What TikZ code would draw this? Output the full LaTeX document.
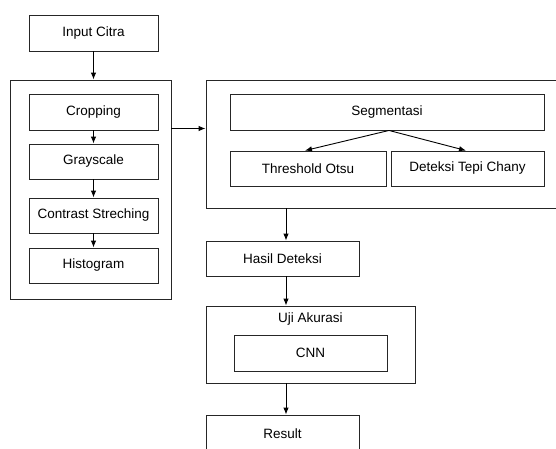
\documentclass[tikz,border=0pt]{standalone}
\usepackage{fontspec}
\setmainfont{Liberation Sans}
\usetikzlibrary{arrows.meta}
\begin{document}
\begin{tikzpicture}[x=1pt,y=-1pt,
  box/.style={draw=black!85,line width=0.9pt,inner sep=0pt,font=\fontsize{13.5}{16}\selectfont},
  arr/.style={draw=black,line width=0.9pt,-{Latex[length=7pt,width=5.5pt]}}]
\useasboundingbox (0,0) rectangle (556,448);
\clip (0,0) rectangle (556,448);
\fill[white] (0,0) rectangle (556,448);
% left column
\node[box,minimum width=129pt,minimum height=36pt] (input) at (93.5,33) {Input Citra};
\node[box,minimum width=161pt,minimum height=219pt] (prep) at (90.5,189.5) {};
\node[box,minimum width=129pt,minimum height=36pt] (crop) at (93.5,112) {Cropping};
\node[box,minimum width=129pt,minimum height=35pt] (gray) at (93.5,161.5) {Grayscale};
\node[box,minimum width=129pt,minimum height=35pt] (contrast) at (93.5,215.5) {Contrast Streching};
\node[box,minimum width=129pt,minimum height=35pt] (hist) at (93.5,265.5) {Histogram};
% right group
\node[box,minimum width=356pt,minimum height=128pt] (seggroup) at (384,144) {};
\node[box,minimum width=314pt,minimum height=36pt] (seg) at (387,112) {Segmentasi};
\node[box,minimum width=156pt,minimum height=35pt] (otsu) at (308,168.5) {Threshold Otsu};
\node[box,minimum width=153pt,minimum height=35pt] (canny) at (467.5,168.5) {Deteksi Tepi Chany};
% bottom chain
\node[box,minimum width=153pt,minimum height=35pt] (hasil) at (282.5,258.5) {Hasil Deteksi};
\node[box,minimum width=209pt,minimum height=77pt] (uji) at (310.5,344.5) {};
\node[font=\fontsize{13.5}{16}\selectfont,inner sep=0pt] (ujilabel) at (310.5,319) {Uji Akurasi};
\node[box,minimum width=153pt,minimum height=36pt] (cnn) at (310.5,353) {CNN};
\node[box,minimum width=153pt,minimum height=37pt] (result) at (282.5,433.5) {Result};
% connectors
\draw[arr] (input.south) -- (prep.north -| input.south);
\draw[arr] (crop.south) -- (gray.north);
\draw[arr] (gray.south) -- (contrast.north);
\draw[arr] (contrast.south) -- (hist.north);
\draw[arr] (prep.east |- 0,128.5) -- (seggroup.west |- 0,128.5);
\draw[arr] (seg.south -| 389,0) -- (otsu.north -| 305,0);
\draw[arr] (seg.south -| 389,0) -- (canny.north -| 466,0);
\draw[arr] (seggroup.south -| 286,0) -- (hasil.north -| 286,0);
\draw[arr] (hasil.south -| 286,0) -- (uji.north -| 286,0);
\draw[arr] (uji.south -| 286,0) -- (result.north -| 286,0);
\end{tikzpicture}
\end{document}
